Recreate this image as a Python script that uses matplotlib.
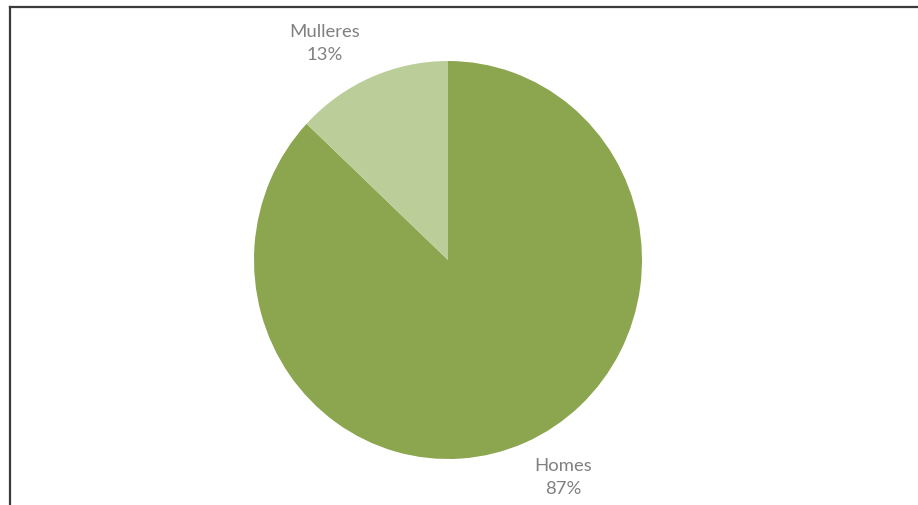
import numpy as np
import matplotlib
matplotlib.use('Agg')
import matplotlib.pyplot as plt
from matplotlib.lines import Line2D

# Data
labels = ['Homes', 'Mulleres']
values = [87, 13]
colors = ['#8BA64F', '#BBCE99']

W, H = 918, 506
fig = plt.figure(figsize=(W / 100, H / 100), dpi=100)
fig.patch.set_facecolor('white')

# pie axes placed in pixel coordinates (slightly taller than wide, as in reference)
ax = fig.add_axes([254 / W, (H - 460) / H, 388 / W, 398 / H])
wedges, _ = ax.pie(values, colors=colors, startangle=90, counterclock=False,
                   wedgeprops=dict(linewidth=0))
ax.set_aspect('auto')
ax.set_xlim(-1, 1)
ax.set_ylim(-1, 1)
ax.axis('off')

# data labels, positioned like the Excel chart
label_pos = {'Homes': (0.593, -1.09), 'Mulleres': (-0.637, 1.095)}
for lab, val in zip(labels, values):
    x, y = label_pos[lab]
    ax.text(x, y, f'{lab}\n{val}%', ha='center', va='center', fontsize=13.3,
            color='#808080', family='Lato', linespacing=1.55, clip_on=False)

# chart frame (left and top edges only visible)
fig.add_artist(Line2D([10 / W, 10 / W], [0, 1 - 8 / H], transform=fig.transFigure,
                      color='#3a3a3a', lw=1.6))
fig.add_artist(Line2D([10 / W, 1], [1 - 8 / H, 1 - 8 / H], transform=fig.transFigure,
                      color='#3a3a3a', lw=1.6))

fig.savefig('out.png', dpi=100)
